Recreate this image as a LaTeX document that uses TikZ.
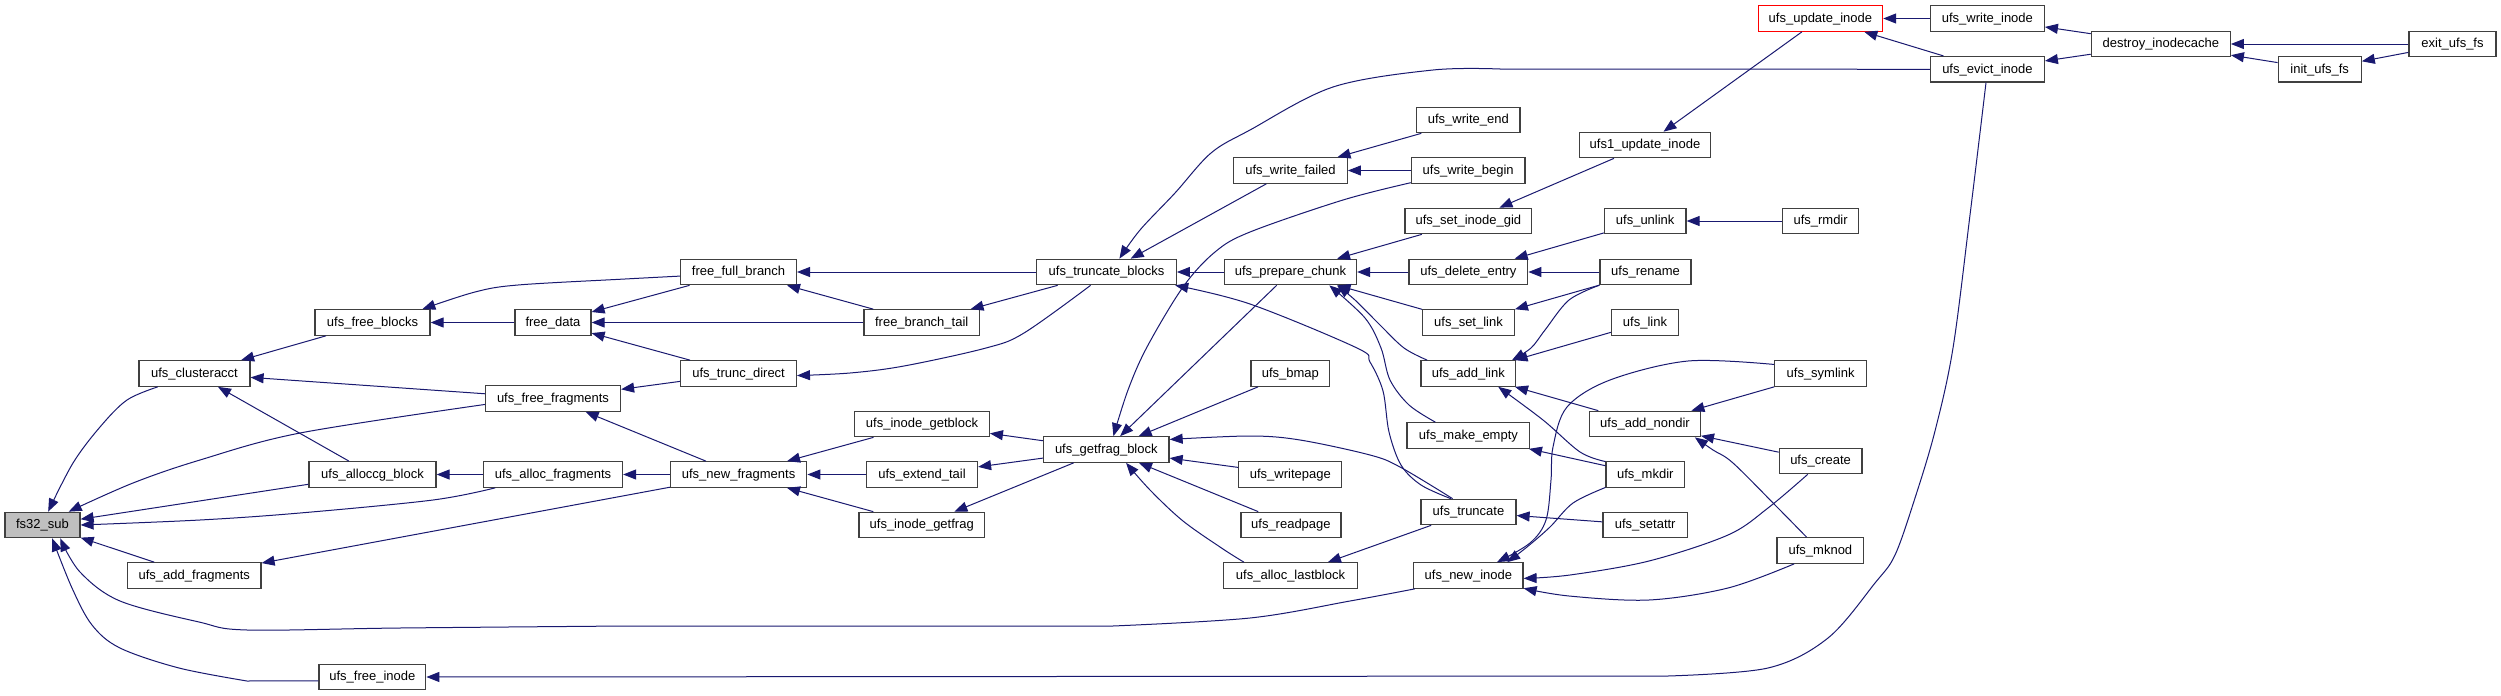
\documentclass[tikz,border=0pt]{standalone}
\usepackage{fontspec}
\newfontfamily\dxfont{Liberation Sans}
\usetikzlibrary{arrows.meta}
\definecolor{edgec}{HTML}{191970}
\definecolor{boxc}{HTML}{404040}
\definecolor{rootc}{HTML}{BFBFBF}
\tikzset{
  fn/.style={draw=boxc, line width=1.2pt, fill=white, minimum height=25.5pt, inner sep=0pt,
             text height=9.4pt, text depth=2pt, font=\dxfont\fontsize{13}{15}\selectfont},
  root/.style={fn, fill=rootc},
  hl/.style={fn, draw=red},
  e/.style={draw=edgec, line width=1pt, -{Triangle[length=13pt,width=10pt]}},
  sm/.style={smooth, tension=0.55}
}
\begin{document}
\begin{tikzpicture}[x=1pt,y=-1pt]
\path[fill=white] (0,0) rectangle (2501,696);
\useasboundingbox (0,0) rectangle (2501,696);

% nodes
\node[root, minimum width=75pt] (fs) at (42.5,525) {fs32\_sub};
\node[fn, minimum width=111pt] (clu) at (194.5,373.5) {ufs\_clusteracct};
\node[fn, minimum width=133.4pt] (addf) at (194.3,575.5) {ufs\_add\_fragments};
\node[fn, minimum width=115pt] (fblk) at (372.5,322.5) {ufs\_free\_blocks};
\node[fn, minimum width=127pt] (alcg) at (372.5,474.5) {ufs\_alloccg\_block};
\node[fn, minimum width=106.7pt] (finode) at (372.4,677) {ufs\_free\_inode};
\node[fn, minimum width=76pt] (fdata) at (553,322.5) {free\_data};
\node[fn, minimum width=135pt] (ffrag) at (553,398.5) {ufs\_free\_fragments};
\node[fn, minimum width=139pt] (afrag) at (553,474.5) {ufs\_alloc\_fragments};
\node[fn, minimum width=115.6pt] (ffb) at (738.6,272) {free\_full\_branch};
\node[fn, minimum width=115.6pt] (tdir) at (738.6,373.5) {ufs\_trunc\_direct};
\node[fn, minimum width=136.4pt] (nfrag) at (738.6,474.5) {ufs\_new\_fragments};
\node[fn, minimum width=115.4pt] (fbt) at (921.7,322.5) {free\_branch\_tail};
\node[fn, minimum width=134.7pt] (igblk) at (922,424) {ufs\_inode\_getblock};
\node[fn, minimum width=111pt] (ext) at (922,474.5) {ufs\_extend\_tail};
\node[fn, minimum width=125.5pt] (igfrag) at (921.7,525) {ufs\_inode\_getfrag};
\node[fn, minimum width=139.6pt] (tblk) at (1106.5,272) {ufs\_truncate\_blocks};
\node[fn, minimum width=125.5pt] (gfb) at (1106.3,449.5) {ufs\_getfrag\_block};
\node[fn, minimum width=113.6pt] (wfail) at (1290.5,170.5) {ufs\_write\_failed};
\node[fn, minimum width=132pt] (pchunk) at (1290.5,272) {ufs\_prepare\_chunk};
\node[fn, minimum width=78.7pt] (bmap) at (1290.4,373.5) {ufs\_bmap};
\node[fn, minimum width=103pt] (wpage) at (1290.3,474.5) {ufs\_writepage};
\node[fn, minimum width=100pt] (rpage) at (1290.9,525) {ufs\_readpage};
\node[fn, minimum width=133.5pt] (alast) at (1290.5,575.5) {ufs\_alloc\_lastblock};
\node[fn, minimum width=103.3pt] (wend) at (1468.3,120) {ufs\_write\_end};
\node[fn, minimum width=113.6pt] (wbegin) at (1468.2,170.5) {ufs\_write\_begin};
\node[fn, minimum width=126.8pt] (sgid) at (1468.4,221) {ufs\_set\_inode\_gid};
\node[fn, minimum width=118.8pt] (dent) at (1468.4,272) {ufs\_delete\_entry};
\node[fn, minimum width=91.7pt] (slink) at (1468.5,322.5) {ufs\_set\_link};
\node[fn, minimum width=94.5pt] (alink) at (1468.3,373.5) {ufs\_add\_link};
\node[fn, minimum width=122.8pt] (mempty) at (1468.4,435.5) {ufs\_make\_empty};
\node[fn, minimum width=95pt] (trunc) at (1468.5,512) {ufs\_truncate};
\node[fn, minimum width=109.2pt] (ninode) at (1468.4,575.5) {ufs\_new\_inode};
\node[fn, minimum width=131.6pt] (u1upd) at (1645,145) {ufs1\_update\_inode};
\node[fn, minimum width=81.6pt] (unlink) at (1645.2,221) {ufs\_unlink};
\node[fn, minimum width=91pt] (rename) at (1645.5,272) {ufs\_rename};
\node[fn, minimum width=67pt] (link) at (1645,322.5) {ufs\_link};
\node[fn, minimum width=110.8pt] (anondir) at (1645,424) {ufs\_add\_nondir};
\node[fn, minimum width=78.5pt] (mkdir) at (1645.3,474.5) {ufs\_mkdir};
\node[fn, minimum width=84.3pt] (setattr) at (1645.2,525) {ufs\_setattr};
\node[hl, minimum width=124.4pt] (upd) at (1820.4,18.5) {ufs\_update\_inode};
\node[fn, minimum width=76pt] (rmdir) at (1820.6,221) {ufs\_rmdir};
\node[fn, minimum width=92pt] (symlink) at (1820.6,373.5) {ufs\_symlink};
\node[fn, minimum width=82.6pt] (create) at (1820.6,461) {ufs\_create};
\node[fn, minimum width=86.8pt] (mknod) at (1820.4,550.5) {ufs\_mknod};
\node[fn, minimum width=113.8pt] (winode) at (1987.4,18.5) {ufs\_write\_inode};
\node[fn, minimum width=113.8pt] (evict) at (1987.4,69.3) {ufs\_evict\_inode};
\node[fn, minimum width=139pt] (dcache) at (2160.8,44) {destroy\_inodecache};
\node[fn, minimum width=83pt] (init) at (2319.7,69.3) {init\_ufs\_fs};
\node[fn, minimum width=87pt] (exitfs) at (2452.5,44) {exit\_ufs\_fs};

% straight edges (caller -> callee)
\draw[e] (alcg) -- (fs);
\draw[e] (addf) -- (fs);
\draw[e] (fblk) -- (clu);
\draw[e] (ffrag) -- (clu);
\draw[e] (alcg) -- (clu);
\draw[e] (fdata) -- (fblk);
\draw[e] (ffb) -- (fdata);
\draw[e] (fbt) -- (fdata);
\draw[e] (tdir) -- (fdata);
\draw[e] (tblk) -- (ffb);
\draw[e] (fbt) -- (ffb);
\draw[e] (tblk) -- (fbt);
\draw[e] (tdir) -- (ffrag);
\draw[e] (nfrag) -- (ffrag);
\draw[e] (afrag) -- (alcg);
\draw[e] (nfrag) -- (afrag);
\draw[e] (nfrag) -- (addf);
\draw[e] (igblk) -- (nfrag);
\draw[e] (ext) -- (nfrag);
\draw[e] (igfrag) -- (nfrag);
\draw[e] (gfb) -- (igblk);
\draw[e] (gfb) -- (ext);
\draw[e] (gfb) -- (igfrag);
\draw[e] (wfail) -- (tblk);
\draw[e] (pchunk) -- (tblk);
\draw[e] (pchunk) -- (gfb);
\draw[e] (bmap) -- (gfb);
\draw[e] (wpage) -- (gfb);
\draw[e] (rpage) -- (gfb);
\draw[e] (trunc) -- (alast);
\draw[e] (wend) -- (wfail);
\draw[e] (wbegin) -- (wfail);
\draw[e] (sgid) -- (pchunk);
\draw[e] (dent) -- (pchunk);
\draw[e] (slink) -- (pchunk);
\draw[e] (u1upd) -- (sgid);
\draw[e] (upd) -- (u1upd);
\draw[e] (winode) -- (upd);
\draw[e] (evict) -- (upd);
\draw[e] (dcache) -- (winode);
\draw[e] (dcache) -- (evict);
\draw[e] (exitfs) -- (dcache);
\draw[e] (init) -- (dcache);
\draw[e] (exitfs) -- (init);
\draw[e] (unlink) -- (dent);
\draw[e] (rename) -- (dent);
\draw[e] (rmdir) -- (unlink);
\draw[e] (rename) -- (slink);
\draw[e] (anondir) -- (alink);
\draw[e] (link) -- (alink);
\draw[e] (mkdir) -- (mempty);
\draw[e] (symlink) -- (anondir);
\draw[e] (create) -- (anondir);
\draw[e] (setattr) -- (trunc);

% curved edges
\draw[e] plot[sm] coordinates {(clu.200) (127,400) (100,427) (73,463) (fs.67)};
\draw[e] plot[sm] coordinates {(ffrag.185.5) (300,433) (200,460) (133,483) (fs.27)};
\draw[e] plot[sm] coordinates {(afrag.193) (433,500) (300,513) (200,520) (fs.east)};
\draw[e] plot[sm] coordinates {(ninode.194) (1350,601) (1250,618) (1113,626)}
   -- plot[sm] coordinates {(625,626) (400,628) (247,630) (199,622) (120,601) (80,572) (fs.-37)};
\draw[e] (finode.184) -- plot[sm] coordinates {(247,681) (179,668) (120,648) (92,625) (72,588) (fs.-54)};
\draw[e] plot[sm] coordinates {(ffb.184) (625,279) (518,285) (475,292) (fblk.15)};
\draw[e] plot[sm] coordinates {(tblk.220) (1024,333) (986,348) (904,366) (850,373) (tdir.-2)};
\draw[e] (evict.west) -- plot[sm] coordinates {(1500,69) (1433,70) (1333,87) (1250,130) (1211,153) (1175,193) (1140,230) (tblk.46)};
\draw[e] plot[sm] coordinates {(trunc.143) (1421,485) (1401,465) (1389,432) (1383,391) (1370,362) (1357,348) (1250,304) (tblk.-11)};
\draw[e] plot[sm] coordinates {(wbegin.192) (1343,200) (1250,232) (1215,252) (1183,287) (1147,347) (1128,390) (gfb.62)};
\draw[e] plot[sm] coordinates {(trunc.140) (1400,467) (1370,455) (1300,440) (1250,436) (gfb.9.5)};
\draw[e] plot[sm] coordinates {(alast.164) (1223,549) (1183,521) (1150,490) (gfb.-34)};
\draw[e] plot[sm] coordinates {(alink.162) (1404,348) (1380,325) (1355,300) (pchunk.-16)};
\draw[e] plot[sm] coordinates {(mempty.158) (1409,405) (1390,380) (1381,348) (1365,318) (pchunk.-19)};
\draw[e] plot[sm] coordinates {(mkdir.198) (1573,503) (1550,527) (1527,547) (ninode.19)};
\draw[e] plot[sm] coordinates {(symlink.169) (1688,361) (1610,380) (1567,407) (1553,447) (1551,480) (1546,520) (1530,543) (ninode.25)};
\draw[e] plot[sm] coordinates {(create.226) (1768,508) (1728,535) (1649,561) (1570,575) (ninode.-3)};
\draw[e] plot[sm] coordinates {(mknod.207) (1728,588) (1649,600) (1569,596) (ninode.-13)};
\draw[e] plot[sm] coordinates {(evict.-96) (1970,215) (1953,348) (1935,431) (1915,498) (1895,555) (1875,583) (1828,638) (1768,668) (1668,676)} -- (finode.east);
\draw[e] plot[sm] coordinates {(rename.196) (1569,300) (1545,330) (1531,348) (alink.17)};
\draw[e] plot[sm] coordinates {(mkdir.162) (1580,452) (1543,420) (alink.-24)};
\draw[e] plot[sm] coordinates {(mknod.136) (1777,507) (1733,463) (1713,450) (anondir.-15)};
\end{tikzpicture}
\end{document}
